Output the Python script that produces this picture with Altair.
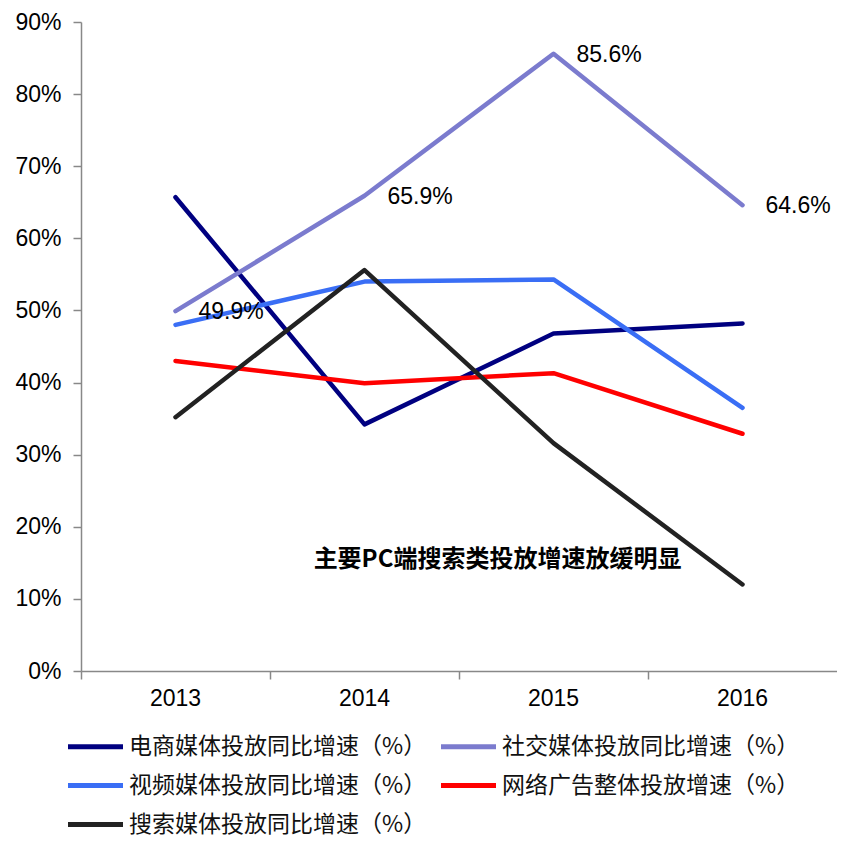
import altair as alt
import pandas as pd

# ---- data ----
years = ["2013", "2014", "2015", "2016"]
series_names = [
    "电商媒体投放同比增速（%）",
    "社交媒体投放同比增速（%）",
    "视频媒体投放同比增速（%）",
    "网络广告整体投放增速（%）",
    "搜索媒体投放同比增速（%）",
]
ecommerce = [65.7, 34.2, 46.8, 48.2]
social = [49.9, 65.9, 85.6, 64.6]
video = [48.0, 54.0, 54.3, 36.5]
online_ad = [43.0, 39.9, 41.3, 32.9]
search = [35.2, 55.6, 31.6, 12.0]
series_colors = ["#000080", "#7B7BCE", "#3A6EF5", "#FF0000", "#222222"]
social_labels = ["49.9%", "65.9%", "85.6%", "64.6%"]
annotation_text = ["主要PC端搜索类投放增速放缓明显"]
annotation_year = ["2015"]
annotation_value = [15.4]
y_ticks = [0, 10, 20, 30, 40, 50, 60, 70, 80, 90]

# ---- tables ----
rows = []
for name, vals in zip(series_names, [ecommerce, social, video, online_ad, search]):
    for y, v in zip(years, vals):
        rows.append({"year": y, "value": v, "series": name})
df = pd.DataFrame(rows)

lab_df = pd.DataFrame({"year": years, "value": social, "label": social_labels})
ann_df = pd.DataFrame({"year": annotation_year, "value": annotation_value, "text": annotation_text})

x_scale = alt.Scale(type="band", domain=years, paddingInner=0, paddingOuter=0)
y_scale = alt.Scale(domain=[0, 90], nice=False)

lines = alt.Chart(df).mark_line(strokeWidth=4.5, strokeCap="round", strokeJoin="round").encode(
    x=alt.X("year:O", scale=x_scale,
            axis=alt.Axis(title=None, labelAngle=0, bandPosition=0, labelPadding=8,
                          domainColor="#888888", tickColor="#888888", tickSize=8,
                          domainWidth=1.5, tickWidth=1.5)),
    y=alt.Y("value:Q", scale=y_scale,
            axis=alt.Axis(title=None, values=y_ticks, labelExpr="datum.value + '%'",
                          labelPadding=12, domainColor="#888888", tickColor="#888888",
                          tickSize=8, domainWidth=1.5, tickWidth=1.5, grid=False)),
    color=alt.Color("series:N",
                    scale=alt.Scale(domain=series_names, range=series_colors),
                    legend=alt.Legend(
                        title=None, orient="none", legendX=1, legendY=711, columns=2,
                        direction="horizontal",
                        symbolType="M-2.5,0H2.5", symbolSize=484, symbolStrokeWidth=5,
                        labelFont="Noto Sans CJK SC", labelFontSize=23, labelColor="#111111",
                        labelOffset=20, labelLimit=0, rowPadding=13, columnPadding=4,
                        padding=0)),
    order=alt.Order("year:O"),
)

labels = alt.Chart(lab_df).mark_text(
    align="left", baseline="middle", dx=23, dy=1,
    font="Liberation Sans", fontSize=23, color="#000000"
).encode(
    x=alt.X("year:O", scale=x_scale),
    y=alt.Y("value:Q", scale=y_scale),
    text="label:N",
)

annot = alt.Chart(ann_df).mark_text(
    align="center", baseline="middle", dx=-56,
    font="Noto Sans CJK SC", fontSize=24, fontWeight="bold", color="#000000"
).encode(
    x=alt.X("year:O", scale=x_scale),
    y=alt.Y("value:Q", scale=y_scale),
    text="text:N",
)

chart = alt.layer(lines, labels, annot).properties(
    width=756, height=649,
    autosize=alt.AutoSizeParams(type="none"),
    padding={"left": 73, "top": 14, "right": 0, "bottom": 168},
).configure_axis(
    labelFont="Liberation Sans", labelFontSize=23, labelColor="#000000", grid=False,
).configure_view(stroke=None)

chart.save("out.html", embed_options={"renderer": "svg", "actions": False})
